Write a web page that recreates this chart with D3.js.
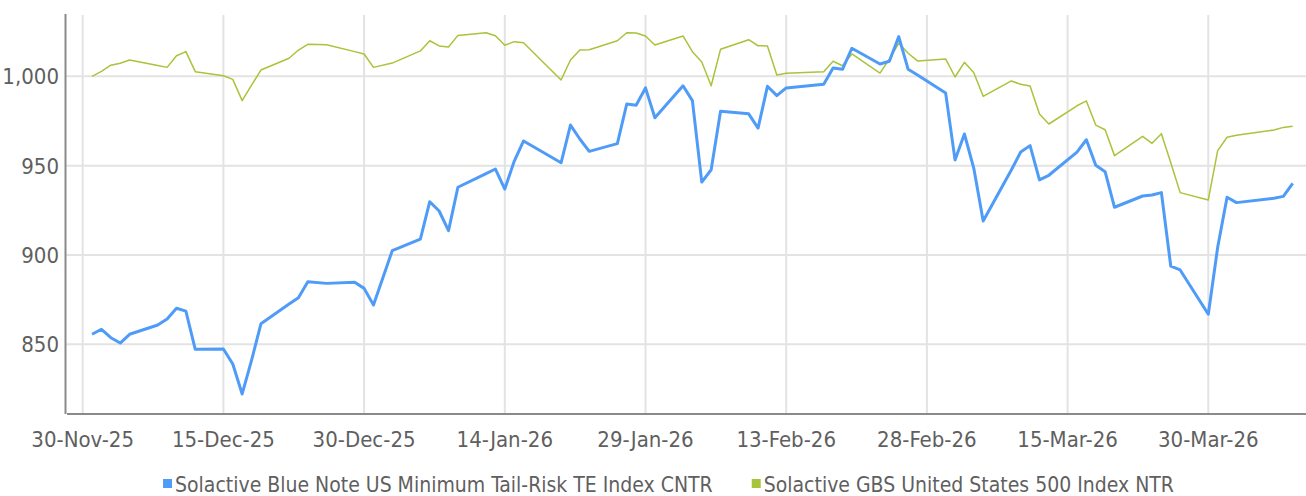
<!DOCTYPE html>
<html>
<head>
<meta charset="utf-8">
<script src="https://cdn.jsdelivr.net/npm/d3@7/dist/d3.min.js"></script>
<style>
  html, body { margin: 0; padding: 0; background: #ffffff; }
  svg { display: block; }
  text { font-family: "Liberation Sans Narrow", "DejaVu Sans Condensed", Roboto, sans-serif; fill: #5f5f5f; }
</style>
</head>
<body>
<svg id="chart" width="1306" height="496"></svg>
<script>
// ---- data ----
const dates = [
  "2025-12-01","2025-12-02","2025-12-03","2025-12-04","2025-12-05",
  "2025-12-08","2025-12-09","2025-12-10","2025-12-11","2025-12-12",
  "2025-12-15","2025-12-16","2025-12-17","2025-12-18","2025-12-19",
  "2025-12-22","2025-12-23","2025-12-24","2025-12-26",
  "2025-12-29","2025-12-30","2025-12-31",
  "2026-01-02",
  "2026-01-05","2026-01-06","2026-01-07","2026-01-08","2026-01-09",
  "2026-01-12","2026-01-13","2026-01-14","2026-01-15","2026-01-16",
  "2026-01-20","2026-01-21","2026-01-22","2026-01-23",
  "2026-01-26","2026-01-27","2026-01-28","2026-01-29","2026-01-30",
  "2026-02-02","2026-02-03","2026-02-04","2026-02-05","2026-02-06",
  "2026-02-09","2026-02-10","2026-02-11","2026-02-12","2026-02-13",
  "2026-02-17","2026-02-18","2026-02-19","2026-02-20",
  "2026-02-23","2026-02-24","2026-02-25","2026-02-26","2026-02-27",
  "2026-03-02","2026-03-03","2026-03-04","2026-03-05","2026-03-06",
  "2026-03-09","2026-03-10","2026-03-11","2026-03-12","2026-03-13",
  "2026-03-16","2026-03-17","2026-03-18","2026-03-19","2026-03-20",
  "2026-03-23","2026-03-24","2026-03-25","2026-03-26","2026-03-27",
  "2026-03-30","2026-03-31","2026-04-01","2026-04-02",
  "2026-04-06","2026-04-07","2026-04-08"
];

const blueValues = [
  855.6, 858.4, 853.7, 850.7, 855.6,
  860.8, 864.2, 870.2, 868.6, 847.2,
  847.4, 839.0, 822.2, 841.0, 861.5,
  872.5, 876.1, 885.0, 884.1,
  884.7, 881.3, 872.0,
  902.4,
  908.9, 929.8, 924.6, 913.6, 937.9,
  945.5, 948.1, 936.9, 952.4, 963.8,
  951.6, 972.7, 964.9, 958.0,
  962.3, 984.5, 983.8, 993.5, 976.8,
  994.7, 986.4, 940.8, 947.7, 980.4,
  979.0, 971.0, 994.4, 989.2, 993.5,
  995.5, 1004.6, 1003.9, 1015.7,
  1006.9, 1008.4, 1022.2, 1003.9, 1000.7,
  990.6, 953.2, 967.7, 948.5, 919.0,
  947.6, 957.6, 961.2, 942.0, 944.6,
  957.6, 964.5, 950.2, 946.6, 926.7,
  933.0, 933.6, 934.9, 893.7, 891.6,
  866.8, 904.3, 932.3, 929.3,
  931.7, 932.8, 940.1
];

const greenValues = [
  1000.0, 1002.8, 1006.2, 1007.3, 1009.1,
  1006.0, 1005.0, 1011.5, 1013.8, 1002.6,
  1000.3, 998.3, 986.4, 995.0, 1003.5,
  1010.1, 1014.7, 1017.9, 1017.7,
  1013.8, 1012.5, 1005.0,
  1007.4,
  1014.2, 1019.9, 1017.0, 1016.4, 1022.9,
  1024.4, 1022.7, 1017.4, 1019.4, 1018.8,
  997.9, 1009.1, 1014.7, 1014.9,
  1019.9, 1024.4, 1024.2, 1022.6, 1017.5,
  1022.6, 1013.8, 1008.0, 994.7, 1015.1,
  1020.5, 1017.1, 1017.0, 1000.7, 1001.7,
  1002.6, 1008.4, 1005.9, 1012.5,
  1001.8, 1009.7, 1018.5, 1012.9, 1008.6,
  1009.7, 999.6, 1007.8, 1002.0, 988.8,
  997.4, 995.5, 994.6, 978.9, 973.3,
  983.5, 986.2, 972.7, 970.1, 955.6,
  966.4, 962.5, 967.9, 951.6, 934.9,
  930.8, 958.4, 965.9, 967.0,
  969.9, 971.4, 972.0
];

const seriesNames = [
  "Solactive Blue Note US Minimum Tail-Risk TE Index CNTR",
  "Solactive GBS United States 500 Index NTR"
];
const seriesColors = ["#4f9bf8", "#a8c43a"];

const xTickDates = ["2025-11-30","2025-12-15","2025-12-30","2026-01-14","2026-01-29","2026-02-13","2026-02-28","2026-03-15","2026-03-30"];
const xTickLabels = ["30-Nov-25","15-Dec-25","30-Dec-25","14-Jan-26","29-Jan-26","13-Feb-26","28-Feb-26","15-Mar-26","30-Mar-26"];
const yTicks = [850, 900, 950, 1000];

// ---- layout ----
const W = 1306, H = 496;
const plot = { left: 66, right: 1306, top: 14, bottom: 414 };
const parse = d3.utcParse("%Y-%m-%d");

const x = d3.scaleUtc()
  .domain([parse("2025-11-30"), parse("2026-03-30")])
  .range([82.7, 1208.3]);
const y = d3.scaleLinear()
  .domain([850, 1000])
  .range([344.3, 76.3]);

const svg = d3.select("#chart");

// grid
const grid = svg.append("g");
grid.selectAll("line.h").data(yTicks).join("line")
  .attr("x1", plot.left).attr("x2", plot.right)
  .attr("y1", d => y(d)).attr("y2", d => y(d))
  .attr("stroke", "#e3e3e3").attr("stroke-width", 2);
grid.selectAll("line.v").data(xTickDates).join("line")
  .attr("x1", d => x(parse(d))).attr("x2", d => x(parse(d)))
  .attr("y1", plot.top + 1).attr("y2", plot.bottom)
  .attr("stroke", "#e3e3e3").attr("stroke-width", 2);

// axes lines
svg.append("line").attr("x1", 65.5).attr("x2", 65.5).attr("y1", plot.top).attr("y2", plot.bottom)
  .attr("stroke", "#8a8a8a").attr("stroke-width", 2);
svg.append("line").attr("x1", 67).attr("x2", plot.right).attr("y1", plot.bottom).attr("y2", plot.bottom)
  .attr("stroke", "#8a8a8a").attr("stroke-width", 2);

// y labels
svg.append("g").selectAll("text").data(yTicks).join("text")
  .attr("x", 59).attr("y", d => y(d) + 8)
  .attr("text-anchor", "end")
  .style("font-size", "22px")
  .text(d => d3.format(",")(d));

// x labels
svg.append("g").selectAll("text").data(xTickDates).join("text")
  .attr("x", d => x(parse(d))).attr("y", 447)
  .attr("text-anchor", "middle")
  .style("font-size", "22px")
  .text((d, i) => xTickLabels[i]);

// lines
const series = [blueValues, greenValues];
const widths = [3, 1.5];
[1, 0].forEach(k => {
  const line = d3.line()
    .x((d, i) => x(parse(dates[i])))
    .y(d => y(d));
  svg.append("path").datum(series[k])
    .attr("fill", "none")
    .attr("stroke", seriesColors[k])
    .attr("stroke-width", widths[k])
    .attr("stroke-linejoin", "round")
    .attr("d", line);
});

// legend
const leg = svg.append("g");
let cx = 0;
seriesNames.forEach((name, i) => {
  const g = leg.append("g").attr("transform", `translate(${cx},0)`);
  g.append("rect").attr("x", 0).attr("y", 479).attr("width", 9).attr("height", 9).attr("fill", seriesColors[i]);
  const t = g.append("text").attr("x", 12).attr("y", 492).style("font-size", "21px").text(name);
  const w = t.node().getComputedTextLength();
  cx += 12 + w + 39;
});
const totalW = cx - 39;
leg.attr("transform", `translate(${668.5 - totalW / 2},0)`);
</script>
</body>
</html>
